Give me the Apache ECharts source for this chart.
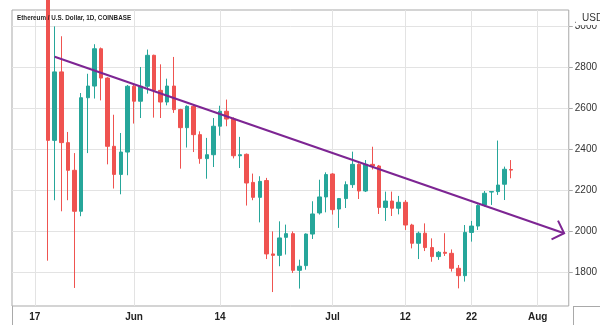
<!DOCTYPE html>
<html>
<head>
<meta charset="utf-8">
<script src="https://cdn.jsdelivr.net/npm/echarts@6/dist/echarts.min.js"></script>
<style>
  html, body { margin: 0; padding: 0; background: #ffffff; }
  #chart { width: 600px; height: 331px; }
</style>
</head>
<body>
<div id="chart"></div>
<script>
// ETH/USD daily candles (Coinbase), 19 May – 28 Jul 2021
const dates = [
  '2021-05-19','2021-05-20','2021-05-21','2021-05-22','2021-05-23','2021-05-24','2021-05-25',
  '2021-05-26','2021-05-27','2021-05-28','2021-05-29','2021-05-30','2021-05-31','2021-06-01',
  '2021-06-02','2021-06-03','2021-06-04','2021-06-05','2021-06-06','2021-06-07','2021-06-08',
  '2021-06-09','2021-06-10','2021-06-11','2021-06-12','2021-06-13','2021-06-14','2021-06-15',
  '2021-06-16','2021-06-17','2021-06-18','2021-06-19','2021-06-20','2021-06-21','2021-06-22',
  '2021-06-23','2021-06-24','2021-06-25','2021-06-26','2021-06-27','2021-06-28','2021-06-29',
  '2021-06-30','2021-07-01','2021-07-02','2021-07-03','2021-07-04','2021-07-05','2021-07-06',
  '2021-07-07','2021-07-08','2021-07-09','2021-07-10','2021-07-11','2021-07-12','2021-07-13',
  '2021-07-14','2021-07-15','2021-07-16','2021-07-17','2021-07-18','2021-07-19','2021-07-20',
  '2021-07-21','2021-07-22','2021-07-23','2021-07-24','2021-07-25','2021-07-26','2021-07-27',
  '2021-07-28'
];
const opens = [
  3380, 2442, 2776, 2431, 2296, 2096, 2650,
  2707, 2889, 2746, 2413, 2276, 2385, 2706,
  2633, 2706, 2857, 2686, 2629, 2707, 2592,
  2504, 2608, 2470, 2353, 2372, 2511, 2584,
  2546, 2367, 2374, 2237, 2164, 2246, 1888,
  1881, 1969, 1987, 1808, 1831, 1985, 2088,
  2166, 2278, 2107, 2158, 2226, 2325, 2195,
  2325, 2317, 2115, 2146, 2111, 2140, 2029,
  1940, 1989, 1919, 1875, 1896, 1891, 1818,
  1782, 1993, 2024, 2127, 2190, 2192, 2228,
  2300
];
const closes = [
  2442, 2776, 2431, 2296, 2096, 2650, 2707,
  2889, 2746, 2413, 2276, 2385, 2706, 2633,
  2706, 2857, 2686, 2629, 2707, 2592, 2504,
  2608, 2470, 2353, 2372, 2511, 2584, 2546,
  2367, 2372, 2234, 2164, 2242, 1888, 1881,
  1966, 1987, 1808, 1828, 1985, 2083, 2166,
  2275, 2104, 2158, 2226, 2325, 2195, 2325,
  2317, 2115, 2146, 2111, 2140, 2029, 1940,
  1989, 1919, 1875, 1896, 1891, 1818, 1782,
  1993, 2024, 2124, 2184, 2192, 2224, 2301,
  2297
];
const lows = [
  1855, 2150, 2096, 2150, 1722, 2072, 2380,
  2646, 2637, 2325, 2207, 2179, 2272, 2524,
  2551, 2670, 2553, 2551, 2613, 2576, 2304,
  2407, 2385, 2328, 2255, 2312, 2465, 2511,
  2354, 2307, 2124, 2150, 2042, 1863, 1702,
  1828, 1885, 1795, 1719, 1811, 1961, 2080,
  2091, 2080, 2015, 2112, 2210, 2156, 2190,
  2300, 2083, 2049, 2073, 2081, 2005, 1915,
  1863, 1902, 1850, 1859, 1878, 1802, 1720,
  1753, 1948, 2005, 2119, 2127, 2176, 2151,
  2257
];
const highs = [
  3440, 2998, 2950, 2483, 2380, 2673, 2767,
  2911, 2895, 2750, 2567, 2478, 2712, 2719,
  2800, 2885, 2860, 2813, 2743, 2849, 2596,
  2613, 2618, 2486, 2454, 2551, 2611, 2641,
  2554, 2459, 2378, 2280, 2267, 2259, 1998,
  2047, 2031, 1998, 1860, 1988, 2145, 2250,
  2286, 2282, 2161, 2242, 2387, 2330, 2346,
  2411, 2322, 2192, 2192, 2171, 2151, 2035,
  1997, 2037, 1964, 1902, 1989, 1910, 1834,
  2029, 2049, 2130, 2195, 2195, 2441, 2314,
  2346
];

// Descending trend line, drawn as an arrow
const trendDates = ['2021-05-20', '2021-08-05'];
const trendValues = [2850, 1989];

// Axis ticks
const priceTicks = [1800, 2000, 2200, 2400, 2600, 2800, 3000];
const timeTickDates = ['2021-05-17', '2021-06-01', '2021-06-14', '2021-07-01', '2021-07-12', '2021-07-22', '2021-08-01'];
const timeTickLabels = ['17', 'Jun', '14', 'Jul', '12', '22', 'Aug'];

const DAY = 864e5;
const ts = s => Date.parse(s);
const anchor = ts('2021-05-17');

const candleData = dates.map((d, i) => [ts(d), opens[i], closes[i], lows[i], highs[i]]);
const tickTimes = timeTickDates.map(ts);
const tickLabelOf = {};
tickTimes.forEach((t, i) => { tickLabelOf[t] = timeTickLabels[i]; });

const UP = '#26a69a';
const DOWN = '#ef5350';
const TREND = '#7d2593';
const FRAME = '#a9a9a9';
const GRID = '#e3e3e3';
const FONT = '"Liberation Sans", Arial, sans-serif';

const chart = echarts.init(document.getElementById('chart'), null, { renderer: 'canvas' });

chart.setOption({
  animation: false,
  backgroundColor: '#ffffff',
  grid: {
    left: 12, right: 27, top: 10, bottom: 25,
    show: true, borderColor: FRAME, borderWidth: 1, backgroundColor: 'transparent'
  },
  xAxis: {
    type: 'value',
    min: anchor - 3.45 * DAY,
    max: anchor + 80.7 * DAY,
    axisLine: { show: false },
    axisTick: { show: false, customValues: tickTimes },
    splitLine: { show: true, lineStyle: { color: GRID, width: 1 } },
    axisLabel: {
      customValues: tickTimes,
      formatter: v => tickLabelOf[v] || '',
      color: '#222222',
      fontSize: 10,
      fontWeight: 'bold',
      fontFamily: FONT,
      margin: 6,
      hideOverlap: false
    }
  },
  yAxis: {
    type: 'value',
    position: 'right',
    min: 1634,
    max: 3078,
    axisLine: { show: false },
    axisTick: { show: true, length: 4, lineStyle: { color: FRAME }, customValues: priceTicks },
    splitLine: { show: true, lineStyle: { color: GRID, width: 1 } },
    axisLabel: {
      customValues: priceTicks,
      formatter: v => String(v),
      color: '#333333',
      fontSize: 10,
      fontFamily: FONT,
      margin: 6
    }
  },
  series: [
    {
      type: 'candlestick',
      data: candleData,
      barWidth: 4,
      clip: true,
      itemStyle: {
        color: UP, color0: DOWN,
        borderColor: UP, borderColor0: DOWN,
        borderWidth: 1
      }
    },
    {
      type: 'line',
      data: trendDates.map((d, i) => [ts(d), trendValues[i]]),
      symbol: 'none',
      clip: false,
      lineStyle: { color: TREND, width: 2 },
      z: 5
    },
    {
      type: 'custom',
      clip: false,
      z: 5,
      data: [[ts(trendDates[1]), trendValues[1], ts(trendDates[0]), trendValues[0]]],
      encode: { x: [0, 2], y: [1, 3] },
      renderItem: (params, api) => {
        const tip = api.coord([api.value(0), api.value(1)]);
        const tail = api.coord([api.value(2), api.value(3)]);
        const ang = Math.atan2(tail[1] - tip[1], tail[0] - tip[0]);
        const len = 14, spread = Math.PI / 4;
        const a1 = [tip[0] + len * Math.cos(ang - spread), tip[1] + len * Math.sin(ang - spread)];
        const a2 = [tip[0] + len * Math.cos(ang + spread), tip[1] + len * Math.sin(ang + spread)];
        return {
          type: 'polyline',
          shape: { points: [a1, tip, a2] },
          style: { stroke: TREND, lineWidth: 2, fill: null, lineJoin: 'miter' }
        };
      }
    }
  ],
  graphic: [
    // frame lines continuing through the time scale strip
    { type: 'line', shape: { x1: 12.5, y1: 306, x2: 12.5, y2: 325 }, style: { stroke: FRAME, lineWidth: 1 }, silent: true },
    { type: 'line', shape: { x1: 573.5, y1: 306, x2: 573.5, y2: 325 }, style: { stroke: FRAME, lineWidth: 1 }, silent: true },
    { type: 'line', shape: { x1: 573, y1: 306.5, x2: 600, y2: 306.5 }, style: { stroke: FRAME, lineWidth: 1 }, silent: true },
    // title
    {
      type: 'text', x: 17, y: 14, scaleX: 0.84, z: 10,
      style: { text: 'Ethereum / U.S. Dollar, 1D, COINBASE', fill: '#1f1f1f', font: 'bold 7.5px ' + FONT }
    },
    // currency tag over the top of the price scale
    { type: 'rect', shape: { x: 576, y: 10, width: 24, height: 15 }, style: { fill: '#ffffff' }, z: 20 },
    {
      type: 'text', x: 582, y: 13, z: 21,
      style: { text: 'USD', fill: '#333333', font: '10px ' + FONT }
    }
  ]
});
</script>
</body>
</html>
